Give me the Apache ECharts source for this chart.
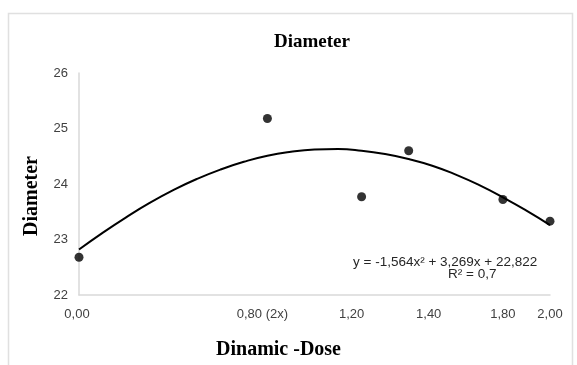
<!DOCTYPE html>
<html><head><meta charset="utf-8">
<script src="https://cdn.jsdelivr.net/npm/echarts@6/dist/echarts.min.js"></script>
<style>html,body{margin:0;padding:0;background:#fff}#c{width:577px;height:365px}</style>
</head><body><div id="c"></div>
<script>
// observed points
const doseX = [0, 0.8, 1.2, 1.4, 1.8, 2.0];
const diameterY = [22.68, 25.18, 23.77, 24.60, 23.72, 23.33];
// trend curve
const trendX = [0, 0.1, 0.2, 0.3, 0.4, 0.5, 0.6, 0.7, 0.8, 0.9, 1.0, 1.1, 1.2, 1.3, 1.4, 1.5, 1.6, 1.7, 1.8, 1.9, 2.0];
const trendY = [22.82, 23.12, 23.40, 23.66, 23.89, 24.09, 24.26, 24.40, 24.51, 24.58, 24.62, 24.63, 24.60, 24.54, 24.45, 24.33, 24.17, 23.98, 23.76, 23.52, 23.26];
// x tick labels
const xTickValues = [0, 0.8, 1.2, 1.4, 1.8, 2.0];
const xTickLabels = ['0,00', '0,80 (2x)', '1,20', '1,40', '1,80', '2,00'];
const equation = 'y = -1,564x\u00B2 + 3,269x + 22,822';
const r2 = 'R\u00B2 = 0,7';

const labelShift = [-2, -5, -10, 20, 0, 0];
const rich = {};
xTickLabels.forEach((t, i) => {
  const s = labelShift[i];
  rich['l' + i] = {
    fontFamily: 'Liberation Sans', fontSize: 13, color: '#404040',
    padding: s >= 0 ? [0, 0, 0, 2 * s] : [0, -2 * s, 0, 0]
  };
});

const chart = echarts.init(document.getElementById('c'));
chart.setOption({
  animation: false,
  backgroundColor: '#fff',
  title: {
    text: 'Diameter', left: 307, top: 28, textAlign: 'center',
    textStyle: {fontFamily: 'Liberation Serif', fontWeight: 'bold', fontSize: 19, color: '#000'}
  },
  grid: {left: 79, top: 73, width: 471, height: 225, containLabel: false},
  graphic: [
    {type: 'rect', shape: {x: 8.5, y: 13.5, width: 564, height: 400}, style: {fill: 'none', stroke: '#e0e0e0', lineWidth: 1.5}, z: -1},
    {type: 'text', left: 353, top: 255, style: {text: equation, font: '13.5px "Liberation Sans"', fill: '#262626'}},
    {type: 'text', x: 448, top: 267, style: {text: r2, font: '13.5px "Liberation Sans"', fill: '#262626', align: 'center'}}
  ],
  xAxis: {
    type: 'value', min: 0, max: 2, interval: 0.2,
    name: 'Dinamic -Dose', nameLocation: 'middle', nameGap: 45,
    nameTextStyle: {fontFamily: 'Liberation Serif', fontWeight: 'bold', fontSize: 20, color: '#000', padding: [0, 0, 0, -72]},
    axisLine: {show: true, lineStyle: {color: '#d9d9d9', width: 1.5}},
    axisTick: {show: false},
    splitLine: {show: false},
    axisLabel: {
      margin: 13, showMinLabel: true, showMaxLabel: true, rich: rich,
      formatter: function (v) {
        const i = xTickValues.findIndex(t => Math.abs(t - v) < 1e-6);
        return i < 0 ? '' : '{l' + i + '|' + xTickLabels[i] + '}';
      }
    }
  },
  yAxis: {
    type: 'value', min: 22, max: 26, interval: 1,
    name: 'Diameter', nameLocation: 'middle', nameGap: 37, nameRotate: 90,
    nameTextStyle: {fontFamily: 'Liberation Serif', fontWeight: 'bold', fontSize: 20, color: '#000', padding: [0, 24, 0, 0]},
    axisLine: {show: true, lineStyle: {color: '#d9d9d9', width: 1.5}},
    axisTick: {show: false},
    splitLine: {show: false},
    axisLabel: {margin: 11, fontFamily: 'Liberation Sans', fontSize: 13, color: '#404040'}
  },
  series: [
    {
      type: 'line', smooth: true, showSymbol: false,
      data: trendX.map((x, i) => [x, trendY[i]]),
      lineStyle: {color: '#000', width: 2}, z: 2
    },
    {
      type: 'scatter', symbol: 'circle', symbolSize: 9,
      data: doseX.map((x, i) => [x, diameterY[i]]),
      itemStyle: {color: '#000'}, z: 3
    }
  ]
});
</script></body></html>
